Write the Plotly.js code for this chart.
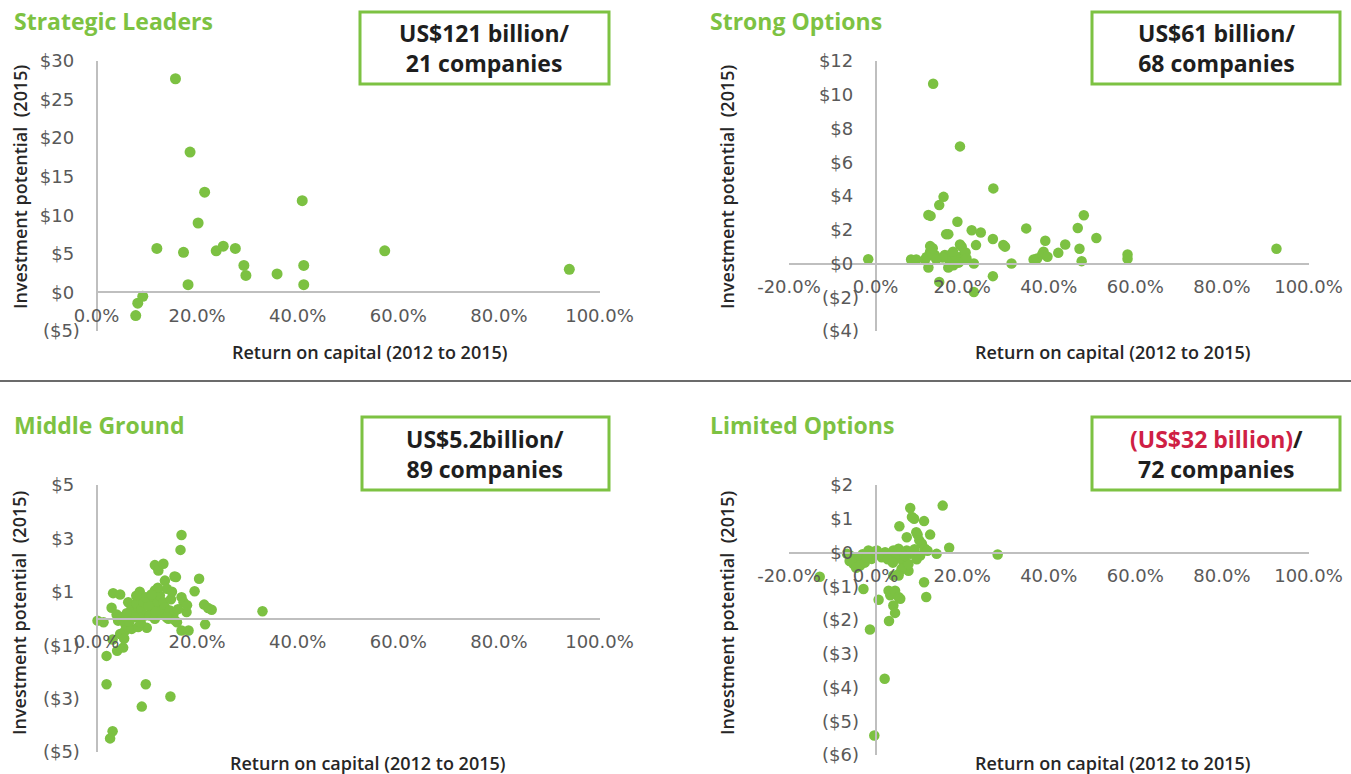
<!DOCTYPE html>
<html><head><meta charset="utf-8">
<script src="https://cdn.plot.ly/plotly-3.0.1.min.js"></script>
<style>html,body{margin:0;padding:0;background:#fff;}#chart{width:1351px;height:774px;}</style>
</head><body><div id="chart"></div>
<script>
// ---------- DATA (x = return on capital %, y = investment potential US$ bn) ----------
const leadersROC = [15.7,18.6,21.5,40.9,20.2,12.0,17.3,23.8,25.2,27.6,57.3,29.3,41.2,29.7,35.9,18.2,41.2,94.0,9.2,8.2,7.8];
const leadersInv = [27.7,18.2,13.0,11.9,9.0,5.7,5.2,5.4,6.0,5.7,5.4,3.5,3.5,2.2,2.4,1.0,1.0,3.0,-0.5,-1.4,-3.0];

const strongROC = [-1.7,13.3,19.5,27.2,15.7,14.7,12.2,12.7,18.9,34.8,22.2,24.3,16.3,16.8,27.1,39.2,29.5,29.9,23.2,19.5,19.9,12.6,12.6,13.7,8.2,9.4,11.4,11.8,16.0,16.8,17.2,17.6,20.3,19.9,18.7,17.2,18.0,16.8,12.2,22.7,31.4,36.5,37.3,38.5,38.8,39.7,14.7,27.1,22.7,48.1,46.7,51.0,43.8,47.1,92.6,42.2,58.2,58.2,47.6,13.0,15.5,18.4,20.8,14.0,17.9,21.0,19.2,13.2];
const strongInv = [0.25,10.65,6.94,4.45,3.95,3.46,2.87,2.82,2.47,2.08,1.97,1.84,1.74,1.74,1.45,1.35,1.1,1.0,1.09,1.13,1.0,1.03,0.7,0.5,0.24,0.24,0.24,0.39,0.5,0.4,0.5,0.3,0.5,0.3,0.2,0.1,-0.1,-0.24,-0.24,0.0,0.0,0.24,0.3,0.55,0.7,0.4,-1.09,-0.75,-1.69,2.86,2.1,1.51,1.13,0.87,0.87,0.63,0.54,0.28,0.14,0.6,0.35,0.45,0.65,0.25,0.7,0.3,0.05,0.9];

const middleROC = [16.9,16.7,33.0,2.0,2.0,9.8,14.7,9.0,3.2,2.7,-0.3,3.0,3.3,4.7,0.2,1.4,5.0,4.3,5.7,6.3,7.0,7.7,8.6,8.3,8.0,9.0,9.6,8.3,10.0,11.3,11.6,12.0,11.0,10.6,11.6,12.6,13.3,13.0,13.6,13.6,14.0,11.6,12.3,13.3,15.5,15.8,14.6,15.3,14.3,16.0,16.9,17.3,17.9,19.5,20.4,21.4,22.2,22.9,21.6,16.9,18.3,15.6,5.7,4.7,7.0,8.3,5.5,5.3,4.1,3.2,6.8,9.3,10.3,12.8,7.5,6.0,9.8,14.8,12.2,6.5,10.9,7.9,15.0,16.2,13.9,4.0,8.8,11.8,18.0];
const middleInv = [3.13,2.57,0.27,-1.40,-2.46,-2.46,-2.92,-3.30,-4.22,-4.49,0.33,0.40,0.95,0.90,-0.08,-0.14,0.05,-0.08,-0.20,0.61,0.42,0.30,1.0,0.73,0.55,0.36,0.11,0.05,-0.35,0.73,1.05,0.55,0.30,0.11,-0.01,0.86,0.61,0.30,0.42,1.42,1.11,2.0,1.80,2.05,1.57,1.55,0.30,0.17,-0.01,-0.14,0.80,0.61,0.24,1.02,1.49,0.52,0.39,0.33,-0.22,-0.45,-0.45,-0.07,-0.45,-0.58,-0.39,-0.32,-0.75,-1.09,-1.21,-0.79,0.15,0.62,0.48,0.15,0.05,0.20,0.80,0.72,1.15,-0.12,0.9,0.85,1.0,0.35,0.05,0.15,-0.15,0.25,0.5];

const limitedROC = [15.5,8.0,8.4,8.9,11.2,5.5,9.4,9.7,12.6,7.2,10.1,10.7,11.4,17.0,14.1,10.3,28.2,-6.6,-5.9,-4.7,-3.9,-5.1,-3.6,-1.65,0.3,2.2,4.1,5.3,6.0,7.2,8.0,-0.9,1.4,3.3,4.9,6.4,7.2,7.6,5.3,6.0,11.2,11.7,3.0,3.4,4.5,5.3,5.7,0.7,4.1,4.5,3.1,-1.3,2.1,-0.3,-12.9,-2.8,4.1,5.3,7.6,-2.5,-0.5,1.0,2.8,-6.0,-4.5,9.0,6.8,-3.0,12.0,4.0,-2.0,9.5];
const limitedInv = [1.39,1.32,1.05,1.0,0.93,0.78,0.60,0.53,0.53,0.45,0.36,0.26,0.11,0.14,-0.04,-0.09,-0.06,-0.04,-0.09,-0.14,-0.24,-0.34,-0.39,0.06,0.06,0.01,0.06,0.11,0.01,0.06,-0.04,-0.19,-0.14,-0.09,-0.14,-0.29,-0.39,-0.54,-0.64,-0.49,-0.88,-1.32,-1.13,-1.27,-1.13,-1.32,-1.37,-1.40,-1.57,-1.79,-2.03,-2.28,-3.74,-5.42,-0.72,-1.08,-0.68,-0.68,-0.34,-0.30,0.02,-0.05,-0.2,-0.25,-0.45,0.1,-0.1,-0.05,0.05,-0.3,-0.15,-0.2];

const panelTitles = ["Strategic Leaders","Strong Options","Middle Ground","Limited Options"];
const boxValue    = ["US$121 billion","US$61 billion","US$5.2billion","(US$32 billion)"];
const boxCount    = ["21 companies","68 companies","89 companies","72 companies"];
const xTicksA = [0,20,40,60,80,100];
const xTicksB = [-20,0,20,40,60,80,100];
const yTicks1 = [-5,0,5,10,15,20,25,30];
const yTicks2 = [-4,-2,0,2,4,6,8,10,12];
const yTicks3 = [-5,-3,-1,1,3,5];
const yTicks4 = [-6,-5,-4,-3,-2,-1,0,1,2];
const xTitle = "Return on capital (2012 to 2015)";
const yTitle = "Investment potential\u00A0 (2015)";

// ---------- LAYOUT ----------
const W = 1351, H = 774;
const GREEN = '#7DC242', MARK = '#7CC142', AXIS = '#BFBFBF', TICK = '#595959';
const px = v => v / W, py = v => 1 - v / H;

function money(v){ return v < 0 ? '($' + Math.abs(v) + ')' : '$' + v + '\u00A0'; }
function pct(v){ return v.toFixed(1) + '%'; }

const panels = [
  {roc: leadersROC, inv: leadersInv, xr:[0,100], xp:[96.5,599.5], yr:[-5,30], yp:[331,61], xt:xTicksA, yt:yTicks1, ms:11},
  {roc: strongROC,  inv: strongInv,  xr:[-20,100], xp:[789,1308.5], yr:[-4,12], yp:[331,61], xt:xTicksB, yt:yTicks2, ms:10.5},
  {roc: middleROC,  inv: middleInv,  xr:[0,100], xp:[96.5,599.5], yr:[-5,5], yp:[752,485], xt:xTicksA, yt:yTicks3, ms:10.5},
  {roc: limitedROC, inv: limitedInv, xr:[-20,100], xp:[789,1308.5], yr:[-6,2], yp:[755,485], xt:xTicksB, yt:yTicks4, ms:10.5}
];

const data = [], layout = {
  width: W, height: H, margin:{l:0,r:0,t:0,b:0}, paper_bgcolor:'#fff', plot_bgcolor:'rgba(0,0,0,0)',
  showlegend:false, annotations:[], shapes:[], hovermode:false
};
const tickFont = {family:'DejaVu Sans, Verdana, sans-serif', size:18, color:TICK};

panels.forEach((p, i) => {
  const n = i === 0 ? '' : String(i + 1);
  const xd = [px(p.xp[0]), px(p.xp[1])];
  const yd = [py(p.yp[0]), py(p.yp[1])];
  const yZero = yd[0] + (0 - p.yr[0]) / (p.yr[1] - p.yr[0]) * (yd[1] - yd[0]);
  const xZero = xd[0] + (0 - p.xr[0]) / (p.xr[1] - p.xr[0]) * (xd[1] - xd[0]);
  data.push({type:'scatter', mode:'markers', x:p.roc, y:p.inv, xaxis:'x'+n, yaxis:'y'+n,
    cliponaxis:false, marker:{color:MARK, size:p.ms, line:{width:0}}});
  layout['xaxis'+n] = {domain:xd, range:p.xr, autorange:false, anchor:'free', position:yZero,
    showgrid:false, zeroline:false, showline:true, linecolor:AXIS, linewidth:2, ticks:'',
    tickmode:'array', tickvals:p.xt, ticktext:p.xt.map(pct), tickfont:tickFont, ticklabelstandoff:7};
  layout['yaxis'+n] = {domain:yd, range:p.yr, autorange:false, anchor:'free', position:xZero,
    showgrid:false, zeroline:false, showline:true, linecolor:AXIS, linewidth:2, ticks:'',
    tickmode:'array', tickvals:p.yt, ticktext:p.yt.map(money), tickfont:tickFont, ticklabelstandoff:12};
});

// panel titles, boxes, axis titles
const titlePos = [[12,21],[708,21],[12,425],[708,425]];
const boxRect  = [[360,12,609,84],[1092,12,1340,84],[362,417,609,490],[1092,417,1340,490]];
const xTitlePos = [[369,352],[1112,352],[367,763],[1112,763]];
const yTitlePos = [[20,187],[727,187],[19,613],[727,613]];
for (let i = 0; i < 4; i++) {
  layout.annotations.push({xref:'paper', yref:'paper', x:px(titlePos[i][0]), y:py(titlePos[i][1]),
    xanchor:'left', yanchor:'middle', showarrow:false, text:panelTitles[i],
    font:{family:'Open Sans, sans-serif', size:23, weight:700, color:GREEN}});
  const b = boxRect[i];
  layout.shapes.push({type:'rect', xref:'paper', yref:'paper', x0:px(b[0]), x1:px(b[2]), y0:py(b[1]), y1:py(b[3]),
    line:{color:GREEN, width:3}, fillcolor:'rgba(0,0,0,0)'});
  const val = i === 3 ? '<span style="color:#CF1F45">' + boxValue[i] + '</span>/' : boxValue[i] + '/';
  layout.annotations.push({xref:'paper', yref:'paper', x:px((b[0]+b[2])/2), y:py((b[1]+b[3])/2),
    xanchor:'center', yanchor:'middle', showarrow:false, align:'center',
    text: val + '<br>' + boxCount[i],
    font:{family:'Open Sans, sans-serif', size:23, weight:700, color:'#1E1E1E'}});
  layout.annotations.push({xref:'paper', yref:'paper', x:px(xTitlePos[i][0]), y:py(xTitlePos[i][1]),
    xanchor:'center', yanchor:'middle', showarrow:false, text:xTitle,
    font:{family:'Open Sans, sans-serif', size:18, weight:600, color:'#262626'}});
  layout.annotations.push({xref:'paper', yref:'paper', x:px(yTitlePos[i][0]), y:py(yTitlePos[i][1]),
    xanchor:'center', yanchor:'middle', showarrow:false, textangle:-90, text:yTitle,
    font:{family:'Open Sans, sans-serif', size:18, weight:600, color:'#262626'}});
}
// divider
layout.shapes.push({type:'line', xref:'paper', yref:'paper', x0:0, x1:1, y0:py(381), y1:py(381),
  line:{color:'#6B6B6B', width:2}});

Plotly.newPlot('chart', data, layout, {displayModeBar:false, staticPlot:true});
</script></body></html>
